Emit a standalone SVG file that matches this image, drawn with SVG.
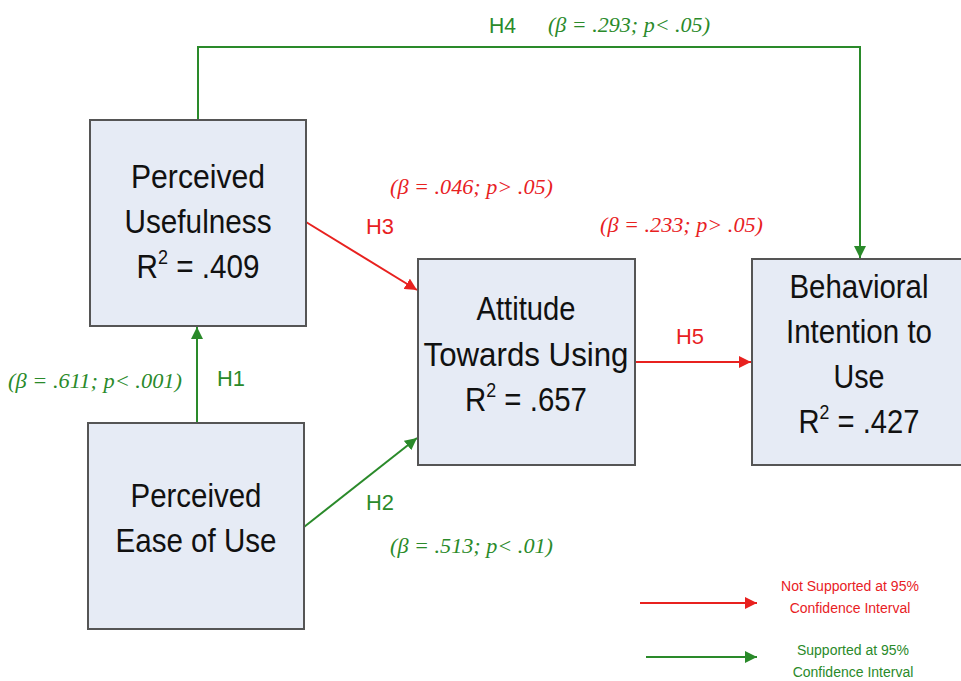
<svg xmlns="http://www.w3.org/2000/svg" width="961" height="681" viewBox="0 0 961 681">
<style>
.box{fill:#e6ebf5;stroke:#555;stroke-width:2}
.nt{font-family:"Liberation Sans",Arial,sans-serif;font-size:33px;fill:#111;text-anchor:middle}
.sup{font-size:20px}
.g{stroke:#2a8a2a;stroke-width:2;fill:none}
.r{stroke:#e8211f;stroke-width:2;fill:none}
.hg{font-family:"Liberation Sans",Arial,sans-serif;font-size:22px;fill:#2a8a2a}
.hr{font-family:"Liberation Sans",Arial,sans-serif;font-size:22px;fill:#e8211f}
.bg{font-family:"Liberation Serif","Times New Roman",serif;font-style:italic;font-size:22px;fill:#2a8a2a}
.br{font-family:"Liberation Serif","Times New Roman",serif;font-style:italic;font-size:22px;fill:#e8211f}
.lr{font-family:"Liberation Sans",Arial,sans-serif;font-size:14px;fill:#e8211f;text-anchor:middle}
.lg{font-family:"Liberation Sans",Arial,sans-serif;font-size:14px;fill:#2a8a2a;text-anchor:middle}
</style>
<defs>
<marker id="ag" viewBox="0 0 10 10" refX="10" refY="5" markerWidth="6" markerHeight="6" orient="auto" markerUnits="strokeWidth"><path d="M0,0L10,5L0,10z" fill="#2a8a2a"/></marker>
<marker id="ar" viewBox="0 0 10 10" refX="10" refY="5" markerWidth="6" markerHeight="6" orient="auto" markerUnits="strokeWidth"><path d="M0,0L10,5L0,10z" fill="#e8211f"/></marker>
</defs>
<rect width="961" height="681" fill="#fff"/>
<g id="connectors">
<polyline class="g" points="198,120 198,47 860,47 860,258" marker-end="url(#ag)"/>
<line class="g" x1="197" y1="423" x2="197" y2="327" marker-end="url(#ag)"/>
<line class="g" x1="304" y1="527" x2="417" y2="438" marker-end="url(#ag)"/>
<line class="r" x1="306" y1="222" x2="417" y2="290" marker-end="url(#ar)"/>
<line class="r" x1="635" y1="362" x2="751" y2="362" marker-end="url(#ar)"/>
<text class="hg" x="489" y="33" textLength="27" lengthAdjust="spacingAndGlyphs">H4</text>
<text class="bg" x="548" y="32" textLength="162" lengthAdjust="spacingAndGlyphs">(β = .293; p&lt; .05)</text>
<text class="hg" x="217" y="386" textLength="28" lengthAdjust="spacingAndGlyphs">H1</text>
<text class="bg" x="8" y="388" textLength="174" lengthAdjust="spacingAndGlyphs">(β = .611; p&lt; .001)</text>
<text class="hr" x="366" y="234" textLength="28" lengthAdjust="spacingAndGlyphs">H3</text>
<text class="br" x="390" y="194" textLength="163" lengthAdjust="spacingAndGlyphs">(β = .046; p&gt; .05)</text>
<text class="br" x="600" y="232" textLength="163" lengthAdjust="spacingAndGlyphs">(β = .233; p&gt; .05)</text>
<text class="hr" x="676" y="344" textLength="28" lengthAdjust="spacingAndGlyphs">H5</text>
<text class="hg" x="366" y="510" textLength="28" lengthAdjust="spacingAndGlyphs">H2</text>
<text class="bg" x="390" y="553" textLength="163" lengthAdjust="spacingAndGlyphs">(β = .513; p&lt; .01)</text>
</g>
<g id="pu">
<rect class="box" x="90" y="120" width="216" height="206"/>
<text class="nt" x="198" y="188" textLength="134" lengthAdjust="spacingAndGlyphs">Perceived</text>
<text class="nt" x="198" y="233" textLength="147" lengthAdjust="spacingAndGlyphs">Usefulness</text>
<text class="nt" x="198" y="278" textLength="123" lengthAdjust="spacingAndGlyphs">R<tspan class="sup" dy="-14">2</tspan><tspan dy="14"> = .409</tspan></text>
</g>
<g id="peou">
<rect class="box" x="88" y="423" width="216" height="206"/>
<text class="nt" x="196" y="507" textLength="131" lengthAdjust="spacingAndGlyphs">Perceived</text>
<text class="nt" x="196" y="552" textLength="161" lengthAdjust="spacingAndGlyphs">Ease of Use</text>
</g>
<g id="atu">
<rect class="box" x="418" y="259" width="217" height="206"/>
<text class="nt" x="526" y="320" textLength="99" lengthAdjust="spacingAndGlyphs">Attitude</text>
<text class="nt" x="526" y="366" textLength="205" lengthAdjust="spacingAndGlyphs">Towards Using</text>
<text class="nt" x="526" y="411" textLength="122" lengthAdjust="spacingAndGlyphs">R<tspan class="sup" dy="-14">2</tspan><tspan dy="14"> = .657</tspan></text>
</g>
<g id="bi">
<rect class="box" x="752" y="259" width="212" height="206"/>
<text class="nt" x="859" y="298" textLength="139" lengthAdjust="spacingAndGlyphs">Behavioral</text>
<text class="nt" x="859" y="343" textLength="146" lengthAdjust="spacingAndGlyphs">Intention to</text>
<text class="nt" x="859" y="388" textLength="51" lengthAdjust="spacingAndGlyphs">Use</text>
<text class="nt" x="859" y="433" textLength="121" lengthAdjust="spacingAndGlyphs">R<tspan class="sup" dy="-14">2</tspan><tspan dy="14"> = .427</tspan></text>
</g>
<g id="legend">
<line class="r" x1="640" y1="603" x2="757" y2="603" marker-end="url(#ar)"/>
<line class="g" x1="646" y1="657" x2="757" y2="657" marker-end="url(#ag)"/>
<text class="lr" x="850" y="591">Not Supported at 95%</text>
<text class="lr" x="850" y="613">Confidence Interval</text>
<text class="lg" x="853" y="655">Supported at 95%</text>
<text class="lg" x="853" y="677">Confidence Interval</text>
</g>
</svg>
